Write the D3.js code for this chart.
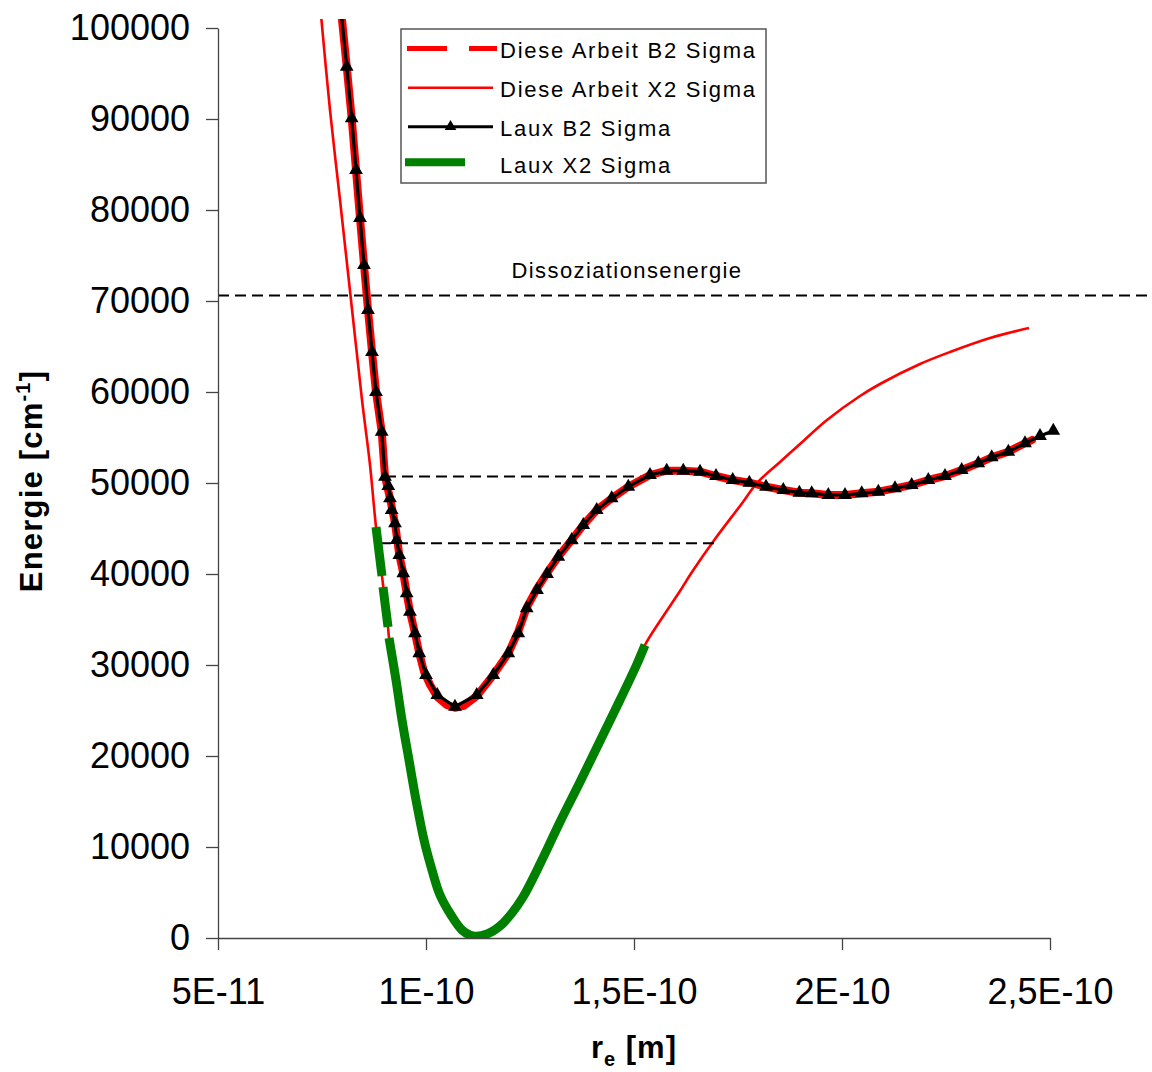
<!DOCTYPE html>
<html>
<head>
<meta charset="utf-8">
<script src="https://cdn.jsdelivr.net/npm/d3@7"></script>
<style>
  html, body { margin: 0; padding: 0; background: #fff; }
  svg { display: block; }
  text { font-family: "Liberation Sans", Arial, Helvetica, sans-serif; }
</style>
</head>
<body>
<svg id="chart" width="1152" height="1072"></svg>
<script>
// Interatomic distance values are given in Ångström (1e-10 m); energies in cm^-1.
const ANGSTROM = 1e-10;

// Laux B2 Sigma (black line, triangle markers)
const lauxB2R = [0.7945, 0.8094, 0.8214, 0.8317, 0.8413, 0.8510, 0.8606, 0.8702, 0.8798, 0.8935,
  0.9014, 0.9094, 0.9135, 0.9175, 0.9255, 0.9296, 0.9358, 0.9454, 0.9536, 0.9615,
  0.9736, 0.9839, 1.0000, 1.0272, 1.0697, 1.1219, 1.1618, 1.1978, 1.2219, 1.2421,
  1.2668, 1.2909, 1.3180, 1.3502, 1.3781, 1.4103, 1.4464, 1.4863, 1.5385, 1.5786,
  1.6185, 1.6587, 1.6971, 1.7373, 1.7772, 1.8173, 1.8589, 1.8974, 1.9272, 1.9671,
  2.0072, 2.0474, 2.0873, 2.1274, 2.1675, 2.2075, 2.2476, 2.2877, 2.3276, 2.3599,
  2.3998, 2.4399, 2.4760, 2.5079];
const lauxB2E = [102527, 95747, 90077, 84396, 79121, 73956, 69011, 64396, 60000, 55637,
  50692, 49670, 48319, 47033, 45571, 43736, 42088, 40077, 37879, 35857,
  33484, 31286, 28901, 26703, 25418, 26703, 28901, 31286, 33484, 36231,
  38242, 40000, 41901, 43736, 45385, 47033, 48319, 49593, 50879, 51352,
  51352, 51242, 50769, 50330, 50033, 49593, 49231, 48934, 48868, 48681,
  48681, 48868, 49044, 49418, 49780, 50330, 50769, 51429, 52165, 52824,
  53440, 54363, 55165, 55747];

// Diese Arbeit B2 Sigma (thick red)
const arbeitB2R = [0.7945, 0.8094, 0.8214, 0.8317, 0.8413, 0.8510, 0.8606, 0.8702, 0.8798, 0.8935,
  0.9014, 0.9135, 0.9255, 0.9358, 0.9454, 0.9536, 0.9615, 0.9736, 0.9839, 0.9950,
  1.0100, 1.0272, 1.0500, 1.0697, 1.0900, 1.1219, 1.1618, 1.1978, 1.2219, 1.2421,
  1.2668, 1.2909, 1.3180, 1.3502, 1.3781, 1.4103, 1.4464, 1.4863, 1.5385, 1.5786,
  1.6185, 1.6587, 1.6971, 1.7373, 1.7772, 1.8173, 1.8589, 1.8974, 1.9272, 1.9671,
  2.0072, 2.0474, 2.0873, 2.1274, 2.1675, 2.2075, 2.2476, 2.2877, 2.3276, 2.3599,
  2.3998, 2.4399, 2.4567];
const arbeitB2E = [102527, 95747, 90077, 84396, 79121, 73956, 69011, 64396, 60000, 55637,
  50692, 48319, 45571, 42088, 40077, 37879, 35857, 33484, 31286, 29300,
  27800, 26500, 25600, 25300, 25500, 26600, 28901, 31286, 33700, 36300,
  38400, 40100, 41901, 43736, 45385, 47033, 48319, 49593, 50879, 51352,
  51352, 51242, 50769, 50330, 50033, 49593, 49231, 48934, 48868, 48681,
  48681, 48868, 49044, 49418, 49780, 50330, 50769, 51429, 52165, 52824,
  53440, 54363, 54725];

// Diese Arbeit X2 Sigma (thin red)
const arbeitX2R = [0.7452, 0.7692, 0.7933, 0.8197, 0.8462, 0.8654, 0.8798, 0.8942, 0.9087, 0.9111,
  0.9279, 0.9423, 0.9591, 0.9760, 0.9952, 1.0144, 1.0337, 1.0601, 1.0865, 1.1130,
  1.1466, 1.1779, 1.2067, 1.2332, 1.2764, 1.3221, 1.3702, 1.4183, 1.4663, 1.5072,
  1.5264, 1.5625, 1.6106, 1.6394, 1.6947, 1.7548, 1.7981, 1.8510, 1.8990, 1.9639,
  2.0433, 2.0913, 2.1875, 2.2596, 2.3558, 2.4495];
const arbeitX2E = [102637, 90989, 81099, 70110, 59121, 51978, 45165, 39780, 34176, 32967,
  28352, 23956, 19560, 15165, 10769, 7473, 4725, 2527, 879, 220,
  440, 1319, 2747, 4505, 8352, 12747, 17143, 21648, 26154, 30110,
  32198, 34835, 38132, 40220, 43846, 47473, 50110, 52308, 54286, 56923,
  59560, 60879, 63077, 64396, 65934, 67033];

// Laux X2 Sigma (thick green); null marks missing values
const lauxX2R = [0.8798, 0.8942, 0.8954, 0.8966, 0.9087, 0.9099, 0.9111,
  0.9279, 0.9423, 0.9591, 0.9760, 0.9952, 1.0144, 1.0337, 1.0601, 1.0865, 1.1130,
  1.1466, 1.1779, 1.2067, 1.2332, 1.2764, 1.3221, 1.3702, 1.4183, 1.4663, 1.5072, 1.5264];
const lauxX2E = [45165, 39780, null, 38571, 34176, null, 32967,
  28352, 23956, 19560, 15165, 10769, 7473, 4725, 2527, 879, 220,
  440, 1319, 2747, 4505, 8352, 12747, 17143, 21648, 26154, 30110, 32198];

// Horizontal reference levels (dashed)
const dissR = [0.5, 2.8];
const dissE = [70600, 70600];
const level1R = [0.9014, 1.5505];
const level1E = [50714, 50714];
const level2R = [0.8894, 1.6988];
const level2E = [43374, 43374];

// Axis ticks
const xTicks = [5e-11, 1e-10, 1.5e-10, 2e-10, 2.5e-10];
const xTickLabels = ["5E-11", "1E-10", "1,5E-10", "2E-10", "2,5E-10"];
const yTicks = [0, 10000, 20000, 30000, 40000, 50000, 60000, 70000, 80000, 90000, 100000];

const legendLabels = ["Diese Arbeit B2 Sigma", "Diese Arbeit X2 Sigma", "Laux B2 Sigma", "Laux X2 Sigma"];

const svg = d3.select("#chart");

const x = d3.scaleLinear().domain([5e-11, 2.5e-10]).range([218, 1050]);
const y = d3.scaleLinear().domain([0, 100000]).range([938, 28]);

const toPoints = (rs, es) => rs.map((r, i) => ({ r: r * ANGSTROM, e: es[i] }));

// plotting area clip (curves may run a bit past the axis ends)
svg.append("defs").append("clipPath").attr("id", "plotClip")
  .append("rect").attr("x", 218).attr("y", 19).attr("width", 934).attr("height", 920);

const plot = svg.append("g").attr("clip-path", "url(#plotClip)");

const smooth = d3.line()
  .defined(d => d.e !== null)
  .x(d => x(d.r)).y(d => y(d.e))
  .curve(d3.curveCatmullRom.alpha(0.5));
const straight = d3.line()
  .defined(d => d.e !== null)
  .x(d => x(d.r)).y(d => y(d.e));

// Diese Arbeit X2 (drawn first, the green runs on top of it)
plot.append("path")
  .attr("d", smooth(toPoints(arbeitX2R, arbeitX2E)))
  .attr("fill", "none").attr("stroke", "#ff0000")
  .attr("stroke-width", 2.6).attr("stroke-linejoin", "round");

// dashed levels
[[dissR, dissE], [level1R, level1E], [level2R, level2E]].forEach(([rs, es]) => {
  plot.append("path")
    .attr("d", straight(toPoints(rs, es)))
    .attr("fill", "none").attr("stroke", "#000")
    .attr("stroke-width", 2).attr("stroke-dasharray", "11,6");
});

// Laux X2
plot.append("path")
  .attr("d", smooth(toPoints(lauxX2R, lauxX2E)))
  .attr("fill", "none").attr("stroke", "#008000")
  .attr("stroke-width", 9).attr("stroke-linejoin", "round");

// Diese Arbeit B2
plot.append("path")
  .attr("d", straight(toPoints(arbeitB2R, arbeitB2E)))
  .attr("fill", "none").attr("stroke", "#ff0000")
  .attr("stroke-width", 8).attr("stroke-linejoin", "round").attr("stroke-linecap", "round");

// Laux B2
const lauxB2 = toPoints(lauxB2R, lauxB2E);
plot.append("path")
  .attr("d", straight(lauxB2))
  .attr("fill", "none").attr("stroke", "#000")
  .attr("stroke-width", 3.2).attr("stroke-linejoin", "round");

const tri = d3.symbol().type(d3.symbolTriangle).size(82);
plot.selectAll("path.marker").data(lauxB2).enter().append("path")
  .attr("class", "marker")
  .attr("d", tri)
  .attr("transform", d => `translate(${x(d.r)},${y(d.e)})`)
  .attr("fill", "#000");

// Axes
const yAxis = d3.axisLeft(y).tickValues(yTicks).tickFormat(d3.format("d"))
  .tickSize(12).tickSizeOuter(0).tickPadding(16);
const gy = svg.append("g").attr("transform", "translate(218,0)").call(yAxis);

const xAxis = d3.axisBottom(x).tickValues(xTicks)
  .tickFormat((d, i) => xTickLabels[i])
  .tickSize(12).tickSizeOuter(0).tickPadding(28);
const gx = svg.append("g").attr("transform", "translate(0,938)").call(xAxis);

[gx, gy].forEach(g => {
  g.select(".domain").attr("stroke", "#444").attr("stroke-width", 1.3);
  g.selectAll(".tick line").attr("stroke", "#444").attr("stroke-width", 1.3);
  g.selectAll(".tick text").attr("fill", "#000")
    .style("font-size", "36px")
    .style("font-family", "'Liberation Sans', Arial, sans-serif");
});

// Dissociation label
svg.append("text")
  .attr("x", 627).attr("y", 278)
  .attr("text-anchor", "middle")
  .style("font-size", "22px").style("letter-spacing", "1.4px")
  .text("Dissoziationsenergie");

// Axis titles
const yTitle = svg.append("text")
  .attr("transform", "translate(42,481) rotate(-90)")
  .attr("text-anchor", "middle")
  .style("font-size", "31px").style("font-weight", "bold").style("letter-spacing", "1.2px");
yTitle.append("tspan").text("Energie [cm");
yTitle.append("tspan").attr("dy", -12).style("font-size", "20px").text("-1");
yTitle.append("tspan").attr("dy", 12).text("]");

const xTitle = svg.append("text")
  .attr("x", 634).attr("y", 1058)
  .attr("text-anchor", "middle")
  .style("font-size", "31px").style("font-weight", "bold").style("letter-spacing", "1px");
xTitle.append("tspan").text("r");
xTitle.append("tspan").attr("dy", 8).style("font-size", "20px").text("e");
xTitle.append("tspan").attr("dy", -8).text(" [m]");

// Legend
const legend = svg.append("g");
legend.append("rect")
  .attr("x", 401).attr("y", 29).attr("width", 365).attr("height", 154)
  .attr("fill", "#fff").attr("stroke", "#555").attr("stroke-width", 1.5);

const rows = [48.5, 87.7, 126.7, 162.3];
legend.append("line").attr("x1", 407).attr("x2", 497).attr("y1", rows[0]).attr("y2", rows[0])
  .attr("stroke", "#ff0000").attr("stroke-width", 5).attr("stroke-dasharray", "40,22");
legend.append("line").attr("x1", 408).attr("x2", 493).attr("y1", rows[1]).attr("y2", rows[1])
  .attr("stroke", "#ff0000").attr("stroke-width", 2.5);
legend.append("line").attr("x1", 408).attr("x2", 493).attr("y1", rows[2]).attr("y2", rows[2])
  .attr("stroke", "#000").attr("stroke-width", 3);
legend.append("path").attr("d", d3.symbol().type(d3.symbolTriangle).size(60))
  .attr("transform", `translate(450.5,${rows[2]})`).attr("fill", "#000");
legend.append("line").attr("x1", 405).attr("x2", 465).attr("y1", rows[3]).attr("y2", rows[3])
  .attr("stroke", "#008000").attr("stroke-width", 8);

legend.selectAll("text.lbl").data(legendLabels).enter().append("text")
  .attr("class", "lbl")
  .attr("x", 500).attr("y", (d, i) => rows[i] + 9 + (i === 3 ? 2 : 0))
  .style("font-size", "22px").style("letter-spacing", "1.75px")
  .text(d => d);
</script>
</body>
</html>
